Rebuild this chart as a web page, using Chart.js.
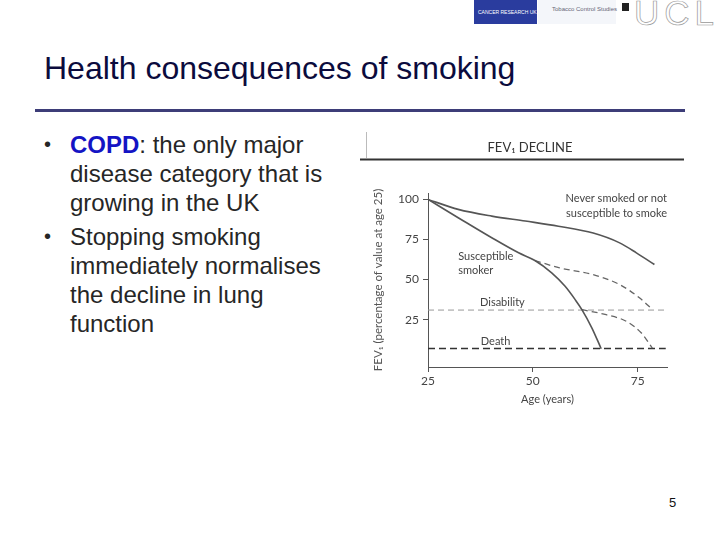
<!DOCTYPE html>
<html lang="en">
<head>
    <meta charset="UTF-8">
    <title>Health consequences of smoking</title>
    <script src="https://cdn.jsdelivr.net/npm/chart.js"></script>
    <style>
        body {
            margin: 0;
            padding: 0;
            width: 720px;
            height: 540px;
            background: #fff;
            font-family: Arial, "Liberation Sans", sans-serif;
            position: relative;
            overflow: hidden;
        }

        .logo-cruk {
            position: absolute;
            left: 474px;
            top: 0;
            width: 63px;
            height: 24px;
            background: #2a3c9e;
            color: #fff;
            font-size: 5px;
            line-height: 24px;
            padding-left: 4px;
            box-sizing: border-box;
            white-space: nowrap;
        }

        .logo-tcs {
            position: absolute;
            left: 538px;
            top: 0;
            width: 78px;
            height: 24px;
            background: #f4f6fa;
            color: #667;
            font-size: 6px;
            padding: 6px 0 0 14px;
            box-sizing: border-box;
            white-space: nowrap;
        }

        .logo-ucl {
            position: absolute;
            left: 634px;
            top: -7px;
            font-size: 35px;
            line-height: normal;
            letter-spacing: 5px;
            color: #fff;
            -webkit-text-stroke: 0.7px #999;
        }

        .logo-icon {
            position: absolute;
            left: 622px;
            top: 3px;
            width: 7px;
            height: 8px;
            background: #222;
        }

        h1 {
            position: absolute;
            left: 44px;
            top: 50px;
            margin: 0;
            font-size: 32px;
            font-weight: normal;
            color: #0b0b3d;
            white-space: nowrap;
        }

        .rule {
            position: absolute;
            left: 35px;
            top: 109px;
            width: 650px;
            height: 3px;
            background: #3d3d78;
        }

        ul {
            position: absolute;
            left: 44px;
            top: 130px;
            width: 300px;
            margin: 0;
            padding: 0;
            list-style: none;
            font-size: 24px;
            line-height: 29px;
            color: #262626;
        }

        li {
            position: relative;
            padding-left: 26px;
            margin-bottom: 5px;
        }

        li::before {
            content: "\2022";
            position: absolute;
            left: 0;
            font-size: 20px;
        }

        .copd {
            color: #1414c4;
            font-weight: bold;
        }

        #chartBox {
            position: absolute;
            left: 360px;
            top: 125px;
            width: 330px;
            height: 290px;
        }

        .page {
            position: absolute;
            left: 669px;
            top: 495px;
            font-size: 13px;
            color: #111;
        }
    </style>
</head>
<body>
    <div class="logo-cruk">CANCER RESEARCH UK</div>
    <div class="logo-tcs">Tobacco Control Studies</div>
    <div class="logo-icon"></div>
    <div class="logo-ucl">UCL</div>

    <h1>Health consequences of smoking</h1>
    <div class="rule"></div>

    <ul>
        <li><span class="copd">COPD</span>: the only major disease category that is growing in the UK</li>
        <li>Stopping smoking immediately normalises the decline in lung function</li>
    </ul>

    <div id="chartBox"><canvas id="fevChart"></canvas></div>

    <div class="page">5</div>

    <script>
        // values: age (years) vs FEV1 (% of value at age 25)
        const neverAges = [25, 32.2, 40.2, 48.2, 56.1, 64.4, 70.7, 74.7, 79];
        const neverFev = [100, 93.8, 89.6, 86.5, 83.3, 79, 72.9, 66.7, 59.4];

        const smokerAges = [25, 32.2, 40.2, 46.6, 50.5, 54.5, 57.7, 60.1, 61.7, 64.1, 66.3];
        const smokerFev = [100, 88.6, 76.1, 66.7, 61.9, 54.2, 45.8, 37.5, 31.3, 19.8, 6.9];

        const quitEarlyAges = [50.5, 56.4, 64.4, 70.7, 75.5, 78.6];
        const quitEarlyFev = [61.9, 57.3, 53.1, 46.9, 38.5, 31.2];

        const quitLateAges = [61.7, 67.5, 72.3, 75.9, 78.5];
        const quitLateFev = [31.3, 28.1, 24, 16.7, 7.3];

        const disabilityLevel = 31;
        const deathLevel = 7;
        const thresholdAges = [25, 81.7];

        const xTicks = [25, 50, 75];
        const yTicks = [25, 50, 75, 100];

        const GREY = '#555';
        const FONT = 'Lato, "Open Sans", sans-serif';

        function toPoints(xs, ys) {
            return xs.map((x, i) => ({ x: x, y: ys[i] }));
        }

        // text on the plot, placed in data units
        const plotLabels = [
            { text: 'Never smoked or not', x: 82, y: 100.6, align: 'right' },
            { text: 'susceptible to smoke', x: 82, y: 91.3, align: 'right' },
            { text: 'Susceptible', x: 32.2, y: 64.4, align: 'left' },
            { text: 'smoker', x: 32.2, y: 55.6, align: 'left' },
            { text: 'Disability', x: 37.4, y: 35.6, align: 'left' },
            { text: 'Death', x: 37.6, y: 11.3, align: 'left' }
        ];

        const decorPlugin = {
            id: 'decor',
            afterDraw(chart) {
                const ctx = chart.ctx;
                const xs = chart.scales.x;
                const ys = chart.scales.y;
                ctx.save();

                // panel header
                ctx.fillStyle = '#333';
                ctx.font = '13px ' + FONT;
                ctx.textAlign = 'center';
                ctx.textBaseline = 'middle';
                ctx.fillText('FEV\u2081 DECLINE', 170, 23);

                ctx.strokeStyle = '#333';
                ctx.lineWidth = 2;
                ctx.beginPath();
                ctx.moveTo(0, 34.5);
                ctx.lineTo(324, 34.5);
                ctx.stroke();

                ctx.strokeStyle = '#bbb';
                ctx.lineWidth = 1;
                ctx.beginPath();
                ctx.moveTo(6.5, 7);
                ctx.lineTo(6.5, 33);
                ctx.stroke();

                ctx.fillStyle = '#444';
                ctx.font = '11px ' + FONT;
                plotLabels.forEach(l => {
                    ctx.textAlign = l.align;
                    ctx.fillText(l.text, xs.getPixelForValue(l.x), ys.getPixelForValue(l.y));
                });
                ctx.restore();
            }
        };

        new Chart(document.getElementById('fevChart'), {
            type: 'line',
            data: {
                datasets: [
                    {
                        label: 'Never smoked or not susceptible to smoke',
                        data: toPoints(neverAges, neverFev),
                        borderColor: GREY,
                        borderWidth: 1.6
                    },
                    {
                        label: 'Susceptible smoker',
                        data: toPoints(smokerAges, smokerFev),
                        borderColor: GREY,
                        borderWidth: 1.6
                    },
                    {
                        label: 'Stopped at 50',
                        data: toPoints(quitEarlyAges, quitEarlyFev),
                        borderColor: '#666',
                        borderWidth: 1.3,
                        borderDash: [6, 4]
                    },
                    {
                        label: 'Stopped at 62',
                        data: toPoints(quitLateAges, quitLateFev),
                        borderColor: '#666',
                        borderWidth: 1.3,
                        borderDash: [6, 4]
                    },
                    {
                        label: 'Disability',
                        data: thresholdAges.map(a => ({ x: a, y: disabilityLevel })),
                        borderColor: '#999',
                        borderWidth: 1,
                        borderDash: [6, 4]
                    },
                    {
                        label: 'Death',
                        data: thresholdAges.map(a => ({ x: a, y: deathLevel })),
                        borderColor: '#333',
                        borderWidth: 1.4,
                        borderDash: [7, 4]
                    }
                ]
            },
            options: {
                responsive: true,
                maintainAspectRatio: false,
                animation: false,
                layout: { padding: { top: 68, right: 23, left: 0, bottom: 0 } },
                elements: {
                    point: { radius: 0 },
                    line: { cubicInterpolationMode: 'monotone', fill: false }
                },
                plugins: {
                    legend: { display: false },
                    tooltip: { enabled: false }
                },
                scales: {
                    x: {
                        type: 'linear',
                        min: 25,
                        max: 82,
                        afterBuildTicks: s => { s.ticks = xTicks.map(v => ({ value: v })); },
                        afterFit: s => { s.height = 48; },
                        grid: { drawOnChartArea: false, tickLength: 5, color: GREY },
                        border: { color: GREY },
                        ticks: { color: '#444', font: { family: FONT, size: 12 }, padding: 2, maxRotation: 0 },
                        title: {
                            display: true,
                            text: 'Age (years)',
                            color: '#444',
                            font: { family: FONT, size: 11 },
                            padding: { top: 9, bottom: 9 }
                        }
                    },
                    y: {
                        type: 'linear',
                        min: -4.5,
                        max: 104,
                        afterBuildTicks: s => { s.ticks = yTicks.map(v => ({ value: v })); },
                        afterFit: s => { s.width = 68; },
                        grid: { drawOnChartArea: false, tickLength: 5, color: GREY },
                        border: { color: GREY },
                        ticks: { color: '#444', font: { family: FONT, size: 12 }, padding: 4 },
                        title: {
                            display: true,
                            text: 'FEV\u2081 (percentage of value at age 25)',
                            color: '#555',
                            font: { family: FONT, size: 11.5 },
                            padding: { top: 11, bottom: 11 }
                        }
                    }
                }
            },
            plugins: [decorPlugin]
        });
    </script>
</body>
</html>
